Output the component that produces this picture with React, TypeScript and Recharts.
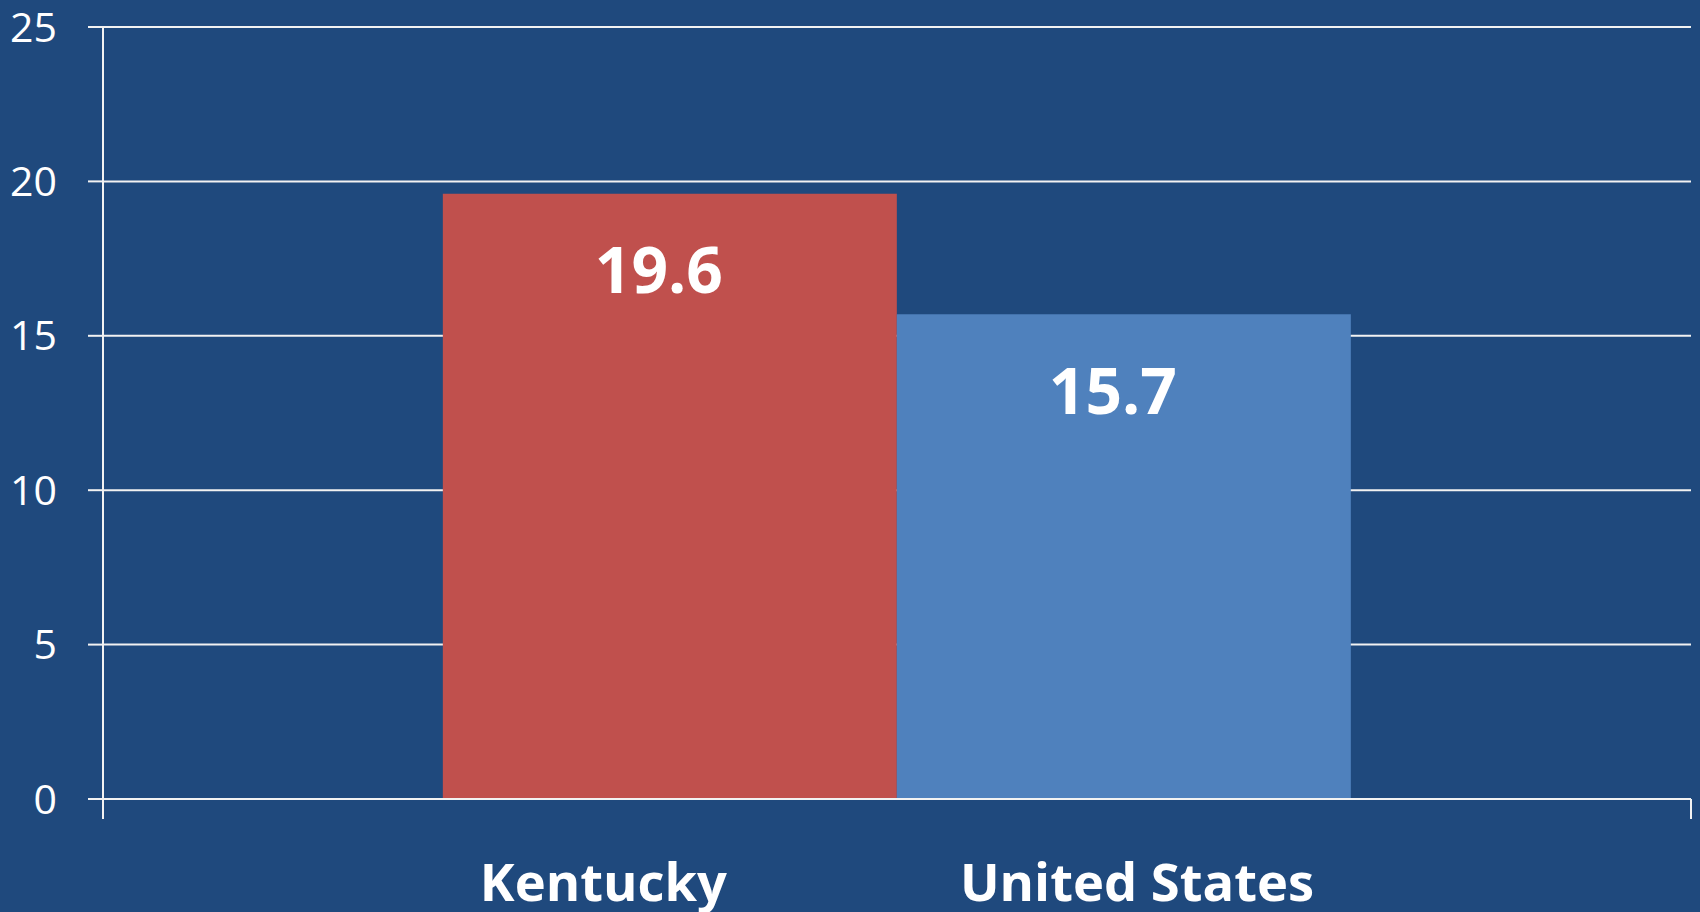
import React from "react";
import {
  BarChart,
  Bar,
  XAxis,
  YAxis,
  CartesianGrid,
  LabelList,
} from "recharts";

const seriesNames = ["Kentucky", "United States"];
const seriesKeys = ["kentucky", "us"];
const seriesValues = [19.6, 15.7];
const seriesColors = ["#C0504D", "#4F81BD"];
const yTicks = [0, 5, 10, 15, 20, 25];

const data = [
  seriesKeys.reduce(
    (row, key, i) => ({ ...row, [key]: seriesValues[i] }),
    { name: "" } as Record<string, string | number>
  ),
];

const BG = "#1F497D";
const LINE = "#F2F2F2";

// Excel-style category ticks: marks at the band edges, not the center
const EdgeTick = (props: any) => {
  const { y, payload } = props;
  const c = payload.coordinate;
  const half = payload.offset || 0;
  return (
    <g>
      {[c - half, c + half].map((x, i) => (
        <line key={i} x1={x} x2={x} y1={y} y2={y + 20} stroke={LINE} strokeWidth={2} />
      ))}
    </g>
  );
};

export default function App() {
  return (
    <div
      style={{
        position: "absolute",
        left: 0,
        top: 0,
        width: 1700,
        height: 912,
        background: BG,
        overflow: "hidden",
      }}
    >
      <BarChart
        width={1700}
        height={912}
        data={data}
        margin={{ top: 27, right: 9, bottom: 93, left: 0 }}
        barCategoryGap="21.4%"
        barGap={0}
      >
        <CartesianGrid vertical={false} stroke={LINE} strokeWidth={2} />
        <XAxis
          dataKey="name"
          height={20}
          tick={<EdgeTick />}
          tickLine={false}
          tickSize={0}
          tickMargin={0}
          axisLine={{ stroke: LINE, strokeWidth: 2 }}
        />
        <YAxis
          width={103}
          domain={[0, 25]}
          ticks={yTicks}
          interval={0}
          tickSize={15}
          tickMargin={31}
          axisLine={{ stroke: LINE, strokeWidth: 2 }}
          tickLine={{ stroke: LINE, strokeWidth: 2 }}
          tick={{ fill: "#FFFFFF", fontSize: 41, fontFamily: "Open Sans" }}
        />
        {seriesKeys.map((key, i) => (
          <Bar
            key={key}
            dataKey={key}
            name={seriesNames[i]}
            fill={seriesColors[i]}
            isAnimationActive={false}
          >
            <LabelList
              dataKey={key}
              position="insideTop"
              offset={54}
              dx={-11}
              fill="#FFFFFF"
              fontSize={64}
              fontWeight={700}
              fontFamily="Open Sans"
            />
          </Bar>
        ))}
      </BarChart>
      <div
        style={{
          position: "absolute",
          top: 854,
          left: 103,
          width: 1588,
          display: "flex",
          justifyContent: "center",
          gap: 233,
          color: "#FFFFFF",
          fontFamily: "Open Sans",
          fontWeight: 700,
          fontSize: 52.5,
          lineHeight: "54px",
          whiteSpace: "nowrap",
        }}
      >
        {seriesNames.map((n) => (
          <span key={n}>{n}</span>
        ))}
      </div>
    </div>
  );
}
